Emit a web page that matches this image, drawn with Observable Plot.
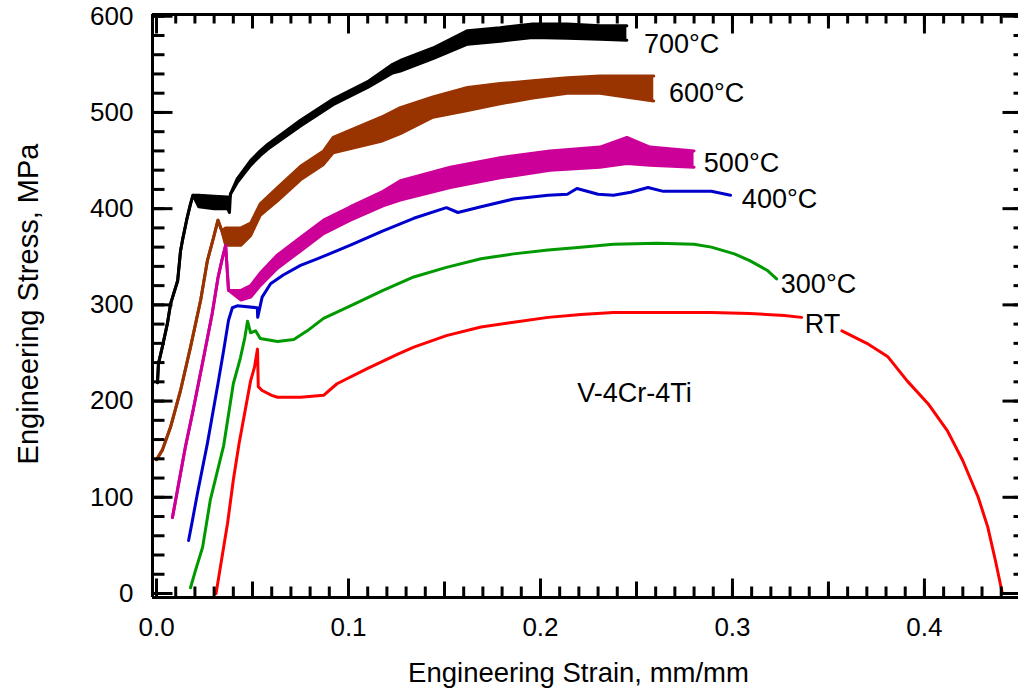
<!DOCTYPE html>
<html><head><meta charset="utf-8">
<script src="https://cdn.jsdelivr.net/npm/d3@7"></script>
<script src="https://cdn.jsdelivr.net/npm/@observablehq/plot@0.6"></script>
<style>html,body{margin:0;padding:0;background:#fff;overflow:hidden} #wrap{position:relative;width:1018px;height:692px} #wrap svg{position:absolute;left:0;top:0}</style>
</head><body><div id="wrap"></div>
<script>
// ---------- data ----------
const seriesNames  = ["RT", "300°C", "400°C", "500°C", "600°C", "700°C"];
const seriesColors = ["#ff0000", "#009900", "#0000cc", "#cc0099", "#993300", "#000000"];

// RT (red) – null marks the gap around the "RT" label
const strainRT = [0.031,0.037,0.040,0.043,0.049,0.051,0.0526,0.053,0.055,0.060,0.063,0.075,0.087,0.094,0.110,0.126,0.134,0.151,0.169,0.186,0.204,0.221,0.238,0.256,0.289,0.309,0.327,0.336,0.346,0.357,0.370,0.381,0.391,0.402,0.412,0.420,0.428,0.433,0.437,0.4406];
const stressRT = [0,73,118,156,221,235,254,215,211,206,204,204,206,218,234,249,256,268,277,282,287,290,292,292,292,291,289,287,null,273,260,246,221,197,169,138,100,69,34,0];

// 300°C (green)
const strain300 = [0.0177,0.0203,0.024,0.028,0.035,0.040,0.0437,0.046,0.0474,0.049,0.0516,0.054,0.063,0.0715,0.0785,0.087,0.101,0.118,0.134,0.151,0.169,0.186,0.204,0.221,0.238,0.261,0.280,0.289,0.301,0.309,0.318,0.323];
const stress300 = [6,24,48,97,154,218,245,266,283,271,273,265,262,264,273,286,299,315,329,339,348,353,357,360,363,364,363,360,353,346,336,327];

// 400°C (blue)
const strain400 = [0.0167,0.0187,0.0213,0.0265,0.032,0.035,0.0375,0.0395,0.042,0.0525,0.0527,0.055,0.0594,0.066,0.075,0.084,0.101,0.118,0.134,0.151,0.157,0.169,0.186,0.204,0.214,0.219,0.230,0.238,0.247,0.256,0.264,0.289,0.299];
const stress400 = [55,76,104,156,218,253,284,297,299,297,287,308,322,331,341,348,362,377,390,401,396,402,410,414,415,421,415,414,417,422,418,418,414];

// 500°C (magenta) – serrated band: lower / upper envelope
const strain500 = [0.0083,0.015,0.019,0.0245,0.029,0.032,0.034,0.036,0.0375,0.044,0.049,0.054,0.063,0.075,0.087,0.101,0.118,0.127,0.153,0.179,0.205,0.231,0.245,0.257,0.280];
const low500    = [79,152,190,245,291,328,346,362,315,305,308,320,338,356,374,388,403,409,422,432,440,443,447,445,443];
const high500   = [79,152,190,245,291,328,346,362,315,315,320,333,352,370,388,402,418,429,443,453,460,464,474,464,460];

// 600°C (brown)
const strain600 = [0.0,0.003,0.0073,0.0125,0.0177,0.023,0.0265,0.0297,0.032,0.034,0.036,0.044,0.049,0.054,0.063,0.075,0.087,0.092,0.117,0.127,0.144,0.162,0.179,0.196,0.214,0.231,0.248,0.259];
const low600    = [139,149,173,211,256,305,346,370,388,377,362,362,372,393,408,430,446,458,470,478,495,502,509,515,520,520,515,512];
const high600   = [139,149,173,211,256,305,346,370,388,377,380,380,385,405,422,444,460,474,495,505,516,526,530,533,536,538,538,538];

// 700°C (black)
const strain700 = [0.0005,0.001,0.003,0.0057,0.0073,0.011,0.0125,0.0135,0.016,0.0177,0.019,0.022,0.030,0.037,0.038,0.0385,0.042,0.049,0.054,0.058,0.075,0.092,0.110,0.123,0.127,0.144,0.162,0.179,0.196,0.214,0.231,0.245];
const low700    = [219,239,256,281,301,325,356,367,391,405,414,402,400,400,396,415,427,445,455,462,486,508,526,541,543,556,571,574,578,577,576,575];
const high700   = [219,239,256,281,301,325,356,367,391,405,414,414,413,412,410,415,431,450,460,467,492,514,532,550,554,567,585,588,592,592,590,590];

// curve labels
const labelText   = ["700°C", "600°C", "500°C", "400°C", "300°C", "RT"];
const labelStrain = [0.2539, 0.2669, 0.2851, 0.3049, 0.3252, 0.3377];
const labelStress = [570.6, 520, 447, 410, 321, 280];
const alloyText   = ["V-4Cr-4Ti"];
const alloyStrain = [0.249];
const alloyStress = [208];

// axes
const xTickLabels = [0, 0.1, 0.2, 0.3, 0.4];
const yTickLabels = [0, 100, 200, 300, 400, 500, 600];
const xTitle = "Engineering Strain, mm/mm";
const yTitle = "Engineering Stress, MPa";

// ---------- layout ----------
const W = 1018, H = 692;
const mL = 152, mR = 0, mT = 14, mB = 95;
const innerW = W - mL - mR, innerH = H - mT - mB;
const xDomain = [-0.0021, 0.449];
const yDomain = [-4.16, 601.8];
const xPerPx = (xDomain[1] - xDomain[0]) / innerW;   // data units per pixel
const yPerPx = (yDomain[1] - yDomain[0]) / innerH;

// ---------- build tables ----------
const thin = [];
function addThin(name, xs, ys) { xs.forEach((x, i) => thin.push({series: name, strain: x, stress: ys[i]})); }
addThin("RT", strainRT, stressRT);
addThin("300°C", strain300, stress300);
addThin("400°C", strain400, stress400);

const bands = [];
function addBand(name, xs, lo, hi) { xs.forEach((x, i) => bands.push({series: name, strain: x, lo: lo[i], hi: hi[i]})); }
addBand("500°C", strain500, low500, high500);
addBand("600°C", strain600, low600, high600);
addBand("700°C", strain700, low700, high700);

const labels = labelText.map((t, i) => ({text: t, strain: labelStrain[i], stress: labelStress[i]}));
const alloy = alloyText.map((t, i) => ({text: t, strain: alloyStrain[i], stress: alloyStress[i]}));

// inward tick tables (pixel lengths converted to data units)
const xMinor = d3.range(0, 45).map(i => i / 100);
const xMid = [0.05, 0.15, 0.25, 0.35];
const yMinor = d3.range(0, 31).map(i => i * 20);

const hMinor = [];
yMinor.forEach(v => { hMinor.push({v, a: xDomain[0], b: xDomain[0] + 12 * xPerPx}); hMinor.push({v, a: xDomain[1] - 5 * xPerPx, b: xDomain[1]}); });
const hMajor = [];
yTickLabels.forEach(v => { hMajor.push({v, a: xDomain[0], b: xDomain[0] + 20 * xPerPx}); hMajor.push({v, a: xDomain[1] - 16 * xPerPx, b: xDomain[1]}); });

const vBottom = [], vTop = [];
const addV = (vals, lb, lt) => vals.forEach(v => { vBottom.push({v, a: yDomain[0], b: yDomain[0] + lb * yPerPx}); vTop.push({v, a: yDomain[1] - lt * yPerPx, b: yDomain[1]}); });
addV(xMinor, 11, 9); addV(xMid, 16, 14); addV(xTickLabels, 19, 19);

const common = {
  width: W, height: H,
  marginLeft: mL, marginRight: mR, marginTop: mT, marginBottom: mB,
  x: {domain: xDomain, axis: null},
  y: {domain: yDomain, axis: null}
};

// layer 1: data, labels, tick labels, titles
const chart = Plot.plot({
  ...common,
  style: {fontFamily: "'Liberation Sans', Arial, Helvetica, sans-serif", fontSize: "26px", background: "white", color: "black"},
  color: {domain: seriesNames, range: seriesColors},
  marks: [
    Plot.axisX(xTickLabels, {tickSize: 0, tickPadding: 20, tickFormat: d3.format(".1f"), fontSize: 26, label: null}),
    Plot.axisY(yTickLabels, {tickSize: 0, tickPadding: 19, tickFormat: d => String(d), fontSize: 26, label: null}),
    Plot.areaY(bands, {x: "strain", y1: "lo", y2: "hi", z: "series", fill: "series"}),
    Plot.line(bands, {x: "strain", y: "lo", z: "series", stroke: "series", strokeWidth: 3}),
    Plot.line(bands, {x: "strain", y: "hi", z: "series", stroke: "series", strokeWidth: 3}),
    Plot.line(thin, {x: "strain", y: "stress", z: "series", stroke: "series", strokeWidth: 3}),
    Plot.text(labels, {x: "strain", y: "stress", text: "text", textAnchor: "start", lineAnchor: "middle", fontSize: 27, fill: "black"}),
    Plot.text(alloy, {x: "strain", y: "stress", text: "text", textAnchor: "middle", lineAnchor: "middle", fontSize: 27, fill: "black"}),
    Plot.text([xTitle], {frameAnchor: "bottom", textAnchor: "middle", dy: 76, dx: -7, fontSize: 27.5, lineAnchor: "middle", text: d => d}),
    Plot.text([yTitle], {frameAnchor: "left", textAnchor: "middle", rotate: -90, dx: -124, dy: -2, fontSize: 29, lineAnchor: "middle", text: d => d})
  ]
});

// layer 2: left frame line + inward ticks on left and right edges
const layerH = Plot.plot({
  ...common,
  style: {background: "transparent"},
  marks: [
    Plot.ruleX([xDomain[0]], {stroke: "black", strokeWidth: 3}),
    Plot.link(hMinor, {x1: "a", x2: "b", y1: "v", y2: "v", stroke: "black", strokeWidth: 3}),
    Plot.link(hMajor, {x1: "a", x2: "b", y1: "v", y2: "v", stroke: "black", strokeWidth: 3})
  ]
});

// layer 3: bottom and top frame lines + inward ticks
const layerB = Plot.plot({
  ...common,
  style: {background: "transparent"},
  marks: [
    Plot.ruleY([yDomain[0]], {stroke: "black", strokeWidth: 3}),
    Plot.link(vBottom, {x1: "v", x2: "v", y1: "a", y2: "b", stroke: "black", strokeWidth: 3})
  ]
});
const layerT = Plot.plot({
  ...common,
  style: {background: "transparent"},
  marks: [
    Plot.ruleY([yDomain[1]], {stroke: "black", strokeWidth: 3}),
    Plot.link(vTop, {x1: "v", x2: "v", y1: "a", y2: "b", stroke: "black", strokeWidth: 3})
  ]
});

const wrap = document.getElementById("wrap");
[chart, layerT, layerB, layerH].forEach(s => wrap.appendChild(s));
</script>
</body></html>
